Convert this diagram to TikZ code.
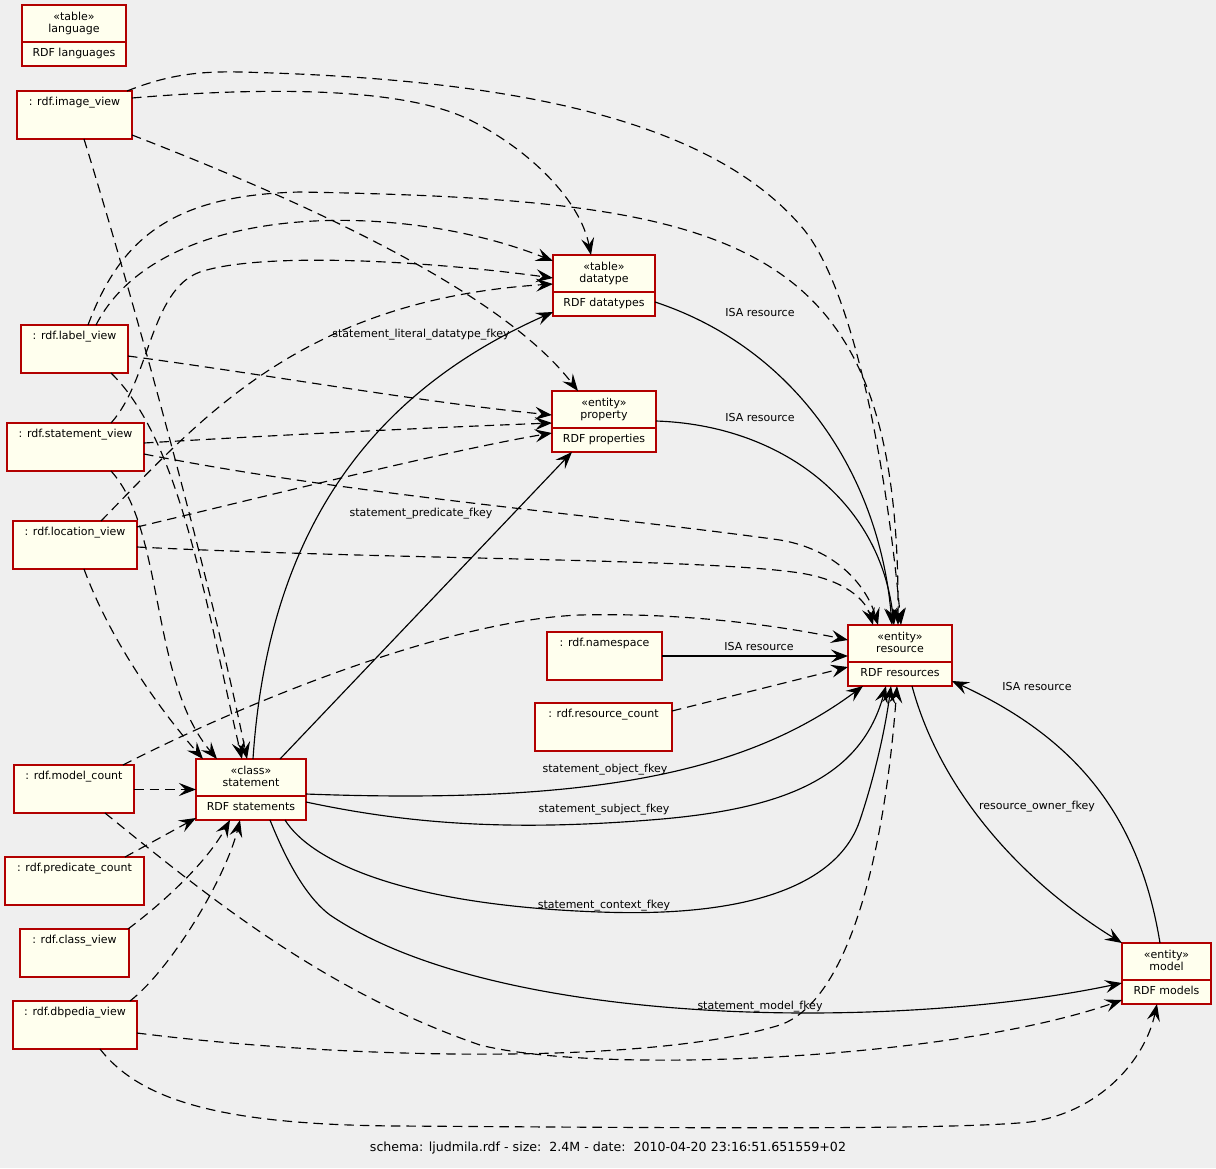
\documentclass[tikz,border=0pt]{standalone}
\usepackage{fontspec}
\setmainfont{DejaVu Sans}
\usetikzlibrary{arrows.meta,calc}
\definecolor{bg}{HTML}{EFEFEF}
\definecolor{boxfill}{HTML}{FFFFEE}
\definecolor{boxline}{HTML}{B20000}
\tikzset{
  box/.style={draw=boxline, fill=boxfill, line width=1.4pt, inner sep=0pt, outer sep=0pt},
  tx/.style={inner sep=0pt, font=\fontsize{11}{13}\selectfont, text height=8pt, text depth=2.4pt},
  fk/.style={draw=black, line width=1.15pt, -{Stealth[length=17pt,width=13pt,inset=6.5pt]}},
  dep/.style={fk, dash pattern=on 9.5pt off 6pt},
  divider/.style={draw=boxline, line width=1.4pt},
}
\newcommand{\entbox}[7]{%
  \node[box, minimum width=#4pt, minimum height=61pt] (#1) at (#2,#3) {};
  \draw[divider] ($(#1.north west)+(0,37)$) -- ($(#1.north east)+(0,37)$);
  \node[tx] (#1-s) at ($(#1.north)+(0,12.9)$) {#5};
  \node[tx] (#1-n) at ($(#1.north)+(0,24.9)$) {#6};
  \node[tx] (#1-b) at ($(#1.north)+(0,48.9)$) {#7};
}
\newcommand{\viewbox}[5]{%
  \node[box, minimum width=#4pt, minimum height=48pt] (#1) at (#2,#3) {};
  \node[tx] (#1-t) at ($(#1.north)+(0,11.9)$) {#5};
}
\begin{document}
\begin{tikzpicture}[x=1pt,y=-1pt]
\fill[bg] (0,0) rectangle (1216,1168);
\useasboundingbox (0,0) rectangle (1216,1168);

% entity / table boxes
\entbox{lang}{74}{35.5}{104}{«table»}{language}{RDF languages}
\entbox{dt}{604}{285.5}{102}{«table»}{datatype}{RDF datatypes}
\entbox{pr}{604}{421.5}{104}{«entity»}{property}{RDF properties}
\entbox{res}{900}{655.5}{104}{«entity»}{resource}{RDF resources}
\entbox{st}{251}{789.5}{110}{«class»}{statement}{RDF statements}
\entbox{mod}{1166.5}{973.5}{89}{«entity»}{model}{RDF models}

% view boxes
\viewbox{iv}{74.5}{115}{115}{: rdf.image\_view}
\viewbox{lv}{74.5}{349}{107}{: rdf.label\_view}
\viewbox{sv}{75.5}{447}{137}{: rdf.statement\_view}
\viewbox{locv}{75}{545}{124}{: rdf.location\_view}
\viewbox{mc}{74}{789}{120}{: rdf.model\_count}
\viewbox{pc}{74.5}{881}{139}{: rdf.predicate\_count}
\viewbox{cv}{74.5}{953}{109}{: rdf.class\_view}
\viewbox{dbv}{75}{1025}{124}{: rdf.dbpedia\_view}
\viewbox{ns}{604.5}{656}{115}{: rdf.namespace}
\viewbox{rc}{603.5}{727}{137}{: rdf.resource\_count}

% dashed dependencies
\draw[dep] ($(iv.north west)+(110,0)$) .. controls (165,76) and (195,71) .. (240,72) .. controls (480,78) and (700,110) .. (800,225) .. controls (850,280) and (885,450) .. ($(res.north west)+(53,0)$);
\draw[dep] ($(iv.north west)+(115,7)$) .. controls (250,88) and (400,85) .. (470,120) .. controls (530,150) and (580,200) .. ($(dt.north west)+(38,0)$);
\draw[dep] ($(iv.north west)+(115,44)$) .. controls (300,200) and (500,290) .. ($(pr.north west)+(26,0)$);
\draw[dep] ($(iv.north west)+(67,48)$) .. controls (140,320) and (215,600) .. ($(st.north west)+(51,0)$);

\draw[dep] ($(lv.north west)+(90,48)$) .. controls (180,440) and (205,600) .. ($(st.north west)+(46,0)$);
\draw[dep] ($(lv.north west)+(67,0)$) .. controls (120,240) and (170,195) .. (300,192) .. controls (750,200) and (900,240) .. ($(res.north west)+(50,0)$);
\draw[dep] ($(lv.north west)+(75,0)$) .. controls (160,200) and (400,200) .. ($(dt.north west)+(0,6)$);
\draw[dep] ($(lv.north west)+(107,31)$) .. controls (270,375) and (420,402) .. ($(pr.north west)+(0,24)$);

\draw[dep] ($(sv.north west)+(104,0)$) .. controls (150,380) and (150,290) .. (200,272) .. controls (260,252) and (420,260) .. ($(dt.north west)+(0,23)$);
\draw[dep] ($(sv.north west)+(137,20)$) .. controls (280,435) and (420,428) .. ($(pr.north west)+(0,32)$);
\draw[dep] ($(sv.north west)+(137,31)$) .. controls (350,495) and (600,515) .. (780,540) .. controls (840,550) and (868,590) .. ($(res.north west)+(30,0)$);
\draw[dep] ($(sv.north west)+(104,48)$) .. controls (165,530) and (150,680) .. ($(st.north west)+(21,0)$);

\draw[dep] ($(locv.north west)+(88,0)$) .. controls (200,420) and (300,300) .. ($(dt.north west)+(0,29)$);
\draw[dep] ($(locv.north west)+(124,6)$) .. controls (250,500) and (450,450) .. ($(pr.north west)+(0,42)$);
\draw[dep] ($(locv.north west)+(124,26)$) .. controls (400,560) and (700,558) .. (800,573) .. controls (845,580) and (866,600) .. ($(res.north west)+(25,0)$);
\draw[dep] ($(locv.north west)+(71,48)$) .. controls (110,640) and (160,710) .. ($(st.north west)+(7,0)$);

\draw[dep] ($(mc.north west)+(120,24.5)$) -- ($(st.north west)+(0,30.5)$);
\draw[dep] ($(mc.north west)+(109,0)$) .. controls (250,700) and (450,620) .. (580,615) .. controls (700,612) and (800,630) .. ($(res.north west)+(0,15)$);
\draw[dep] ($(mc.north west)+(91,48)$) .. controls (200,890) and (320,990) .. (480,1045) .. controls (600,1075) and (950,1060) .. ($(mod.north west)+(0,57)$);

\draw[dep] ($(pc.north west)+(120,0)$) -- ($(st.south west)+(0,-2)$);
\draw[dep] ($(cv.north west)+(108,0)$) .. controls (160,905) and (205,865) .. ($(st.south west)+(34,0)$);
\draw[dep] ($(dbv.north west)+(117,0)$) .. controls (170,970) and (225,880) .. ($(st.south west)+(44,0)$);
\draw[dep] ($(dbv.north west)+(124,32)$) .. controls (350,1060) and (650,1065) .. (780,1025) .. controls (850,1000) and (885,850) .. ($(res.south west)+(49,0)$);
\draw[dep] ($(dbv.north west)+(87,48)$) .. controls (140,1100) and (220,1125) .. (400,1126) .. controls (700,1128) and (950,1130) .. (1030,1122) .. controls (1100,1112) and (1145,1060) .. ($(mod.south west)+(35,0)$);

\draw[dep] ($(rc.north west)+(137,8)$) -- ($(res.north west)+(0,42)$);

% solid foreign keys / ISA
\draw[fk] ($(dt.north west)+(102,47)$) .. controls (800,350) and (880,480) .. ($(res.north west)+(44,0)$);
\draw[fk] ($(pr.north west)+(104,30)$) .. controls (780,425) and (880,500) .. ($(res.north west)+(46,0)$);
\draw[fk] (ns.east) -- ($(res.north west)+(0,31)$);
\draw[fk] ($(st.north west)+(57,0)$) .. controls (270,500) and (400,380) .. ($(dt.north west)+(0,57)$);
\draw[fk] ($(st.north west)+(84,0)$) -- ($(pr.north west)+(20,61)$);
\draw[fk] ($(st.north east)+(0,35)$) .. controls (600,805) and (750,770) .. ($(res.south west)+(15,0)$);
\draw[fk] ($(st.north east)+(0,43)$) .. controls (400,822) and (500,832) .. (650,820) .. controls (780,810) and (860,780) .. ($(res.south west)+(38,0)$);
\draw[fk] ($(st.south west)+(89,0)$) .. controls (310,860) and (400,905) .. (600,912) .. controls (760,918) and (840,880) .. (860,820) .. controls (875,775) and (885,730) .. ($(res.south west)+(43,0)$);
\draw[fk] ($(st.south west)+(74,0)$) .. controls (290,870) and (310,900) .. (330,915) .. controls (500,1030) and (900,1030) .. ($(mod.north west)+(0,40)$);
\draw[fk] ($(res.south west)+(64,0)$) .. controls (940,790) and (1020,880) .. (mod.north west);
\draw[fk] ($(mod.north west)+(38,0)$) .. controls (1140,820) and (1080,740) .. ($(res.south east)+(0,-5)$);

% edge labels
\node[tx] (l-dt) at (760,314) {ISA resource};
\node[tx] (l-pr) at (760,419) {ISA resource};
\node[tx] (l-ns) at (759,648) {ISA resource};
\node[tx] (l-mod) at (1037,688) {ISA resource};
\node[tx] (l-lit) at (421,335) {statement\_literal\_datatype\_fkey};
\node[tx] (l-pred) at (421,514) {statement\_predicate\_fkey};
\node[tx] (l-obj) at (605,770) {statement\_object\_fkey};
\node[tx] (l-subj) at (604,810) {statement\_subject\_fkey};
\node[tx] (l-ctx) at (604,906) {statement\_context\_fkey};
\node[tx] (l-model) at (760,1007) {statement\_model\_fkey};
\node[tx] (l-owner) at (1037,807) {resource\_owner\_fkey};

% caption
\node[tx, font=\fontsize{12.6}{14}\selectfont] (caption) at (608,1149) {schema: ljudmila.rdf - size:\ \ 2.4M - date:\ \ 2010-04-20 23:16:51.651559+02};
\end{tikzpicture}
\end{document}
